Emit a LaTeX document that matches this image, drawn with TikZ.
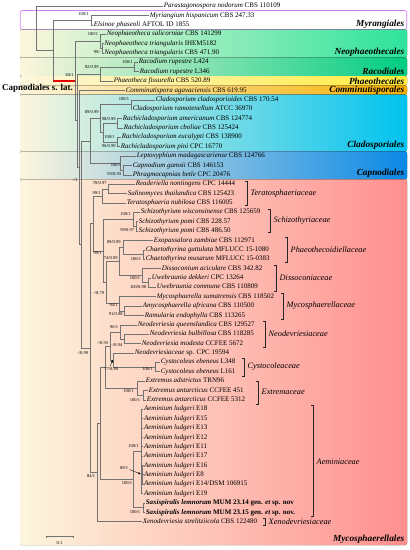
\documentclass[tikz,border=0pt]{standalone}
\usepackage{fontspec}
\setmainfont{Liberation Serif}
\usetikzlibrary{arrows.meta}
\definecolor{bgcream}{HTML}{FDF6DD}
\definecolor{myrline}{HTML}{D27CF5}
\definecolor{neoR}{HTML}{2DE39C}
\definecolor{neoM}{HTML}{CDF4D8}
\definecolor{racR}{HTML}{00CD82}
\definecolor{racM}{HTML}{A8EDC4}
\definecolor{phaR}{HTML}{FFEC3D}
\definecolor{phaM}{HTML}{FDF6A8}
\definecolor{comR}{HTML}{F5B000}
\definecolor{comM}{HTML}{FBDF9C}
\definecolor{claR}{HTML}{00C3EF}
\definecolor{claM}{HTML}{CBEDFA}
\definecolor{capR}{HTML}{0A88E6}
\definecolor{capM}{HTML}{BFDFF7}
\definecolor{mycR}{HTML}{FF8F8F}
\definecolor{mycM}{HTML}{FDD0A2}
\newcommand{\txn}[2]{\textit{#1} #2}
\begin{document}
\begin{tikzpicture}[x=1pt, y=-1pt,
  branch/.style={draw=black!55, line width=0.45pt},
  capstem/.style={draw=red!90!black, line width=1.4pt},
  taxon/.style={anchor=west, inner sep=0.6pt, font=\fontsize{7}{8}\selectfont, text height=4.8pt, text depth=1.4pt},
  supp/.style={anchor=east, inner sep=0.2pt, font=\fontsize{4.5}{5}\selectfont},
  famlabel/.style={anchor=west, inner sep=0.5pt, font=\fontsize{8.3}{9}\selectfont\itshape},
  ordlabel/.style={anchor=east, inner sep=0.5pt, font=\fontsize{9.3}{10}\selectfont\bfseries\itshape},
  bracket/.style={draw=black!85, line width=0.7pt},
  band/.style={rounded corners=2pt},
  pointer/.style={-{Triangle[length=2.4pt,width=2.2pt]}, line width=0.35pt}]
\useasboundingbox (0,0) rectangle (410,550);

% coloured bands
\fill[band, bgcream] (20,29.5) rectangle (407,545);
\draw[band, draw=myrline, fill=white, line width=0.6pt] (20.3,10.5) rectangle (406.7,29.5);
\fill[band, left color=bgcream, middle color=neoM, right color=neoR] (20,29.5) rectangle (407,57.4);
\fill[band, left color=bgcream, middle color=racM, right color=racR] (20,57.4) rectangle (407,76);
\fill[band, left color=bgcream, middle color=phaM, right color=phaR] (20,76) rectangle (407,85.4);
\fill[band, left color=bgcream, middle color=comM, right color=comR] (20,85.4) rectangle (407,94.7);
\fill[band, left color=bgcream, middle color=claM, right color=claR] (20,94.7) rectangle (407,151.4);
\fill[band, left color=bgcream, middle color=capM, right color=capR] (20,151.4) rectangle (407,179.4);
\fill[band, left color=bgcream, middle color=mycM, right color=mycR] (20,179.4) rectangle (407,545);

% orders
\node[ordlabel] (omyr) at (405,24.5) {Myrangiales};
\node[ordlabel] (oneo) at (405,52) {Neophaeothecales};
\node[ordlabel] (orac) at (405,71.5) {Racodiales};
\node[ordlabel] (opha) at (405,81) {Phaeothecales};
\node[ordlabel] (ocom) at (405,90.2) {Comminutisporales};
\node[ordlabel] (ocla) at (405,145.5) {Cladosporiales};
\node[ordlabel] (ocap) at (405,173.5) {Capnodiales};
\node[ordlabel] (omyc) at (405,539.5) {Mycosphaerellales};
\node[anchor=east, inner sep=0.5pt, font=\fontsize{9}{10}\selectfont\bfseries] (capsl) at (73.5,88) {Capnodiales s. lat.};

% taxa
\node[taxon] (t0) at (163,6) {\txn{Parastagonospora nodorum}{CBS 110109}};
\node[taxon] (t1) at (149,15.38) {\txn{Myriangium hispanicum}{CBS 247.33}};
\node[taxon] (t2) at (93,24.75) {\txn{Elsinoe phaseoli}{AFTOL ID 1855}};
\node[taxon] (t3) at (106,34.13) {\txn{Neophaeotheca salicorniae}{CBS 141299}};
\node[taxon] (t4) at (103.5,43.5) {\txn{Neophaeotheca triangularis}{IHEM5182}};
\node[taxon] (t5) at (103.5,52.88) {\txn{Neophaeotheca triangularis}{CBS 471.90}};
\node[taxon] (t6) at (138,62.26) {\txn{Racodium rupestre}{L424}};
\node[taxon] (t7) at (139,71.63) {\txn{Racodium rupestre}{L346}};
\node[taxon] (t8) at (113,81.01) {\txn{Phaeotheca fissurella}{CBS 520.89}};
\node[taxon] (t9) at (125,90.38) {\txn{Comminutispora agavaciensis}{CBS 619.95}};
\node[taxon] (t10) at (155,99.76) {\txn{Cladosporium cladosporioides}{CBS 170.54}};
\node[taxon] (t11) at (132,109.14) {\txn{Cladosporium ramotenellum}{ATCC 36970}};
\node[taxon] (t12) at (122,118.51) {\txn{Rachicladosporium americanum}{CBS 124774}};
\node[taxon] (t13) at (123,127.89) {\txn{Rachicladosporium cboliae}{CBS 125424}};
\node[taxon] (t14) at (121,137.26) {\txn{Rachicladosporium eucalypti}{CBS 138900}};
\node[taxon] (t15) at (120,146.64) {\txn{Rachicladosporium pini}{CPC 16770}};
\node[taxon] (t16) at (136,156.02) {\txn{Leptoxyphium madagascariense}{CBS 124766}};
\node[taxon] (t17) at (132,165.39) {\txn{Capnodium gamsii}{CBS 146153}};
\node[taxon] (t18) at (132,174.77) {\txn{Phragmocapnias betle}{CPC 20476}};
\node[taxon] (t19) at (135,184.14) {\txn{Readeriella nontingens}{CPC 14444}};
\node[taxon] (t20) at (127,193.52) {\txn{Salinomyces thailandica}{CBS 125423}};
\node[taxon] (t21) at (126,202.90) {\txn{Teratosphaeria nubilosa}{CBS 116005}};
\node[taxon] (t22) at (140,212.27) {\txn{Schizothyrium wisconsinense}{CBS 125659}};
\node[taxon] (t23) at (138,221.65) {\txn{Schizothyrium pomi}{CBS 228.57}};
\node[taxon] (t24) at (138,231.02) {\txn{Schizothyrium pomi}{CBS 486.50}};
\node[taxon] (t25) at (153,240.40) {\txn{Exopassalora zambiae}{CBS 112971}};
\node[taxon] (t26) at (145,249.78) {\txn{Chaetothyrina guttulata}{MFLUCC 15-1080}};
\node[taxon] (t27) at (145,259.15) {\txn{Chaetothyrina musarum}{MFLUCC 15-0383}};
\node[taxon] (t28) at (161,268.53) {\txn{Dissoconium aciculare}{CBS 342.82}};
\node[taxon] (t29) at (151,277.90) {\txn{Uwebraunia dekkeri}{CPC 13264}};
\node[taxon] (t30) at (156,287.28) {\txn{Uwebraunia commune}{CBS 110809}};
\node[taxon] (t31) at (156,296.66) {\txn{Mycosphaerella sumatrensis}{CBS 118502}};
\node[taxon] (t32) at (142,306.03) {\txn{Amycosphaerella africana}{CBS 110500}};
\node[taxon] (t33) at (144,315.41) {\txn{Ramularia endophylla}{CBS 113265}};
\node[taxon] (t34) at (137,324.78) {\txn{Neodevriesia queenslandica}{CBS 129527}};
\node[taxon] (t35) at (149,334.16) {\txn{Neodevriesia bulbillosa}{CBS 118285}};
\node[taxon] (t36) at (141,343.54) {\txn{Neodevriesia modesta}{CCFEE 5672}};
\node[taxon] (t37) at (134,352.91) {\txn{Neodevriesiaceae}{sp. CPC 19594}};
\node[taxon] (t38) at (160,362.29) {\txn{Cystocoleus ebeneus}{L348}};
\node[taxon] (t39) at (160,371.66) {\txn{Cystocoleus ebeneus}{L161}};
\node[taxon] (t40) at (145,381.04) {\txn{Extremus adstrictus}{TRN96}};
\node[taxon] (t41) at (148,390.42) {\txn{Extremus antarcticus}{CCFEE 451}};
\node[taxon] (t42) at (146,399.79) {\txn{Extremus antarcticus}{CCFEE 5312}};
\node[taxon] (t43) at (143.3,409.17) {\txn{Aeminium ludgeri}{E18}};
\node[taxon] (t44) at (143.3,418.54) {\txn{Aeminium ludgeri}{E15}};
\node[taxon] (t45) at (143.3,427.92) {\txn{Aeminium ludgeri}{E13}};
\node[taxon] (t46) at (143.3,437.30) {\txn{Aeminium ludgeri}{E12}};
\node[taxon] (t47) at (143.3,446.67) {\txn{Aeminium ludgeri}{E11}};
\node[taxon] (t48) at (143.3,456.05) {\txn{Aeminium ludgeri}{E17}};
\node[taxon] (t49) at (143.3,465.42) {\txn{Aeminium ludgeri}{E16}};
\node[taxon] (t50) at (143.3,474.80) {\txn{Aeminium ludgeri}{E8}};
\node[taxon] (t51) at (143.3,484.18) {\txn{Aeminium ludgeri}{E14/DSM 106915}};
\node[taxon] (t52) at (143.3,493.55) {\txn{Aeminium ludgeri}{E19}};
\node[taxon, font=\fontsize{7}{8}\selectfont\bfseries] (t53) at (145,502.93) {\txn{Saxispiralis lemnorum}{MUM 23.14 gen. \textit{et} sp. nov}};
\node[taxon, font=\fontsize{7}{8}\selectfont\bfseries] (t54) at (145,512.30) {\txn{Saxispiralis lemnorum}{MUM 23.15 gen. \textit{et} sp. nov.}};
\node[taxon] (t55) at (142,521.68) {\txn{Xenodevriesia strelitziicola}{CBS 122480}};

% inner nodes
\coordinate (R0) at (36,28.25);
\coordinate (A) at (53,50.5);
\coordinate (Myr) at (91,20.07);
\coordinate (C) at (75,80.92);
\coordinate (Neo) at (100,41.16);
\coordinate (Nt) at (102,48.19);
\coordinate (C2) at (77,120.68);
\coordinate (RP) at (100,73.98);
\coordinate (Rac) at (134,66.95);
\coordinate (C3) at (79,167.38);
\coordinate (C4) at (81,244.37);
\coordinate (Cc) at (90,140.79);
\coordinate (Cla) at (100,118.52);
\coordinate (Cl) at (131,104.45);
\coordinate (Ra) at (103,132.58);
\coordinate (Ra1) at (117,123.2);
\coordinate (Ra2) at (117,141.95);
\coordinate (Cp) at (120,163.05);
\coordinate (Cp2) at (123,170.08);
\coordinate (Q) at (90,347.94);
\coordinate (MA) at (93,223.41);
\coordinate (T) at (102,195.87);
\coordinate (T1) at (108,188.83);
\coordinate (G1) at (103,250.95);
\coordinate (S) at (133,219.3);
\coordinate (S2) at (136,226.34);
\coordinate (G2) at (106,282.6);
\coordinate (G3) at (119,261.5);
\coordinate (P) at (123,247.43);
\coordinate (Ch) at (143,254.47);
\coordinate (D) at (142,275.56);
\coordinate (U) at (148,282.59);
\coordinate (Mc) at (119,303.69);
\coordinate (Am) at (124,310.72);
\coordinate (M2) at (97,472.46);
\coordinate (M3) at (100,423.24);
\coordinate (M4) at (105,366.99);
\coordinate (X) at (110,345.89);
\coordinate (N1) at (120,331.82);
\coordinate (N2) at (124,338.85);
\coordinate (Y) at (113,359.95);
\coordinate (Cy) at (155,366.98);
\coordinate (E1) at (137,388.08);
\coordinate (E2) at (143,395.11);
\coordinate (AeC) at (133,479.49);
\coordinate (Ae1) at (141.5,451.36);
\coordinate (AeS) at (142.5,474.8);
\coordinate (Sax) at (143,507.62);

% branches
\draw[branch] (R0) |- (t0.west) (R0) |- (A);
\draw[branch] (A) |- (Myr) (A) -- (A |- C);
\draw[capstem] (A |- C) -- (C);
\draw[branch] (Myr) |- (t1.west) (Myr) |- (t2.west);
\draw[branch] (C) |- (Neo) (C) |- (C2);
\draw[branch] (Neo) |- (t3.west) (Neo) |- (Nt);
\draw[branch] (Nt) |- (t4.west) (Nt) |- (t5.west);
\draw[branch] (C2) |- (RP) (C2) |- (C3);
\draw[branch] (RP) |- (Rac) (RP) |- (t8.west);
\draw[branch] (Rac) |- (t6.west) (Rac) |- (t7.west);
\draw[branch] (C3) |- (t9.west) (C3) |- (C4);
\draw[branch] (C4) |- (Cc) (C4) |- (Q);
\draw[branch] (Cc) |- (Cla) (Cc) |- (Cp);
\draw[branch] (Cla) |- (Cl) (Cla) |- (Ra);
\draw[branch] (Cl) |- (t10.west) (Cl) |- (t11.west);
\draw[branch] (Ra) |- (Ra1) (Ra) |- (Ra2);
\draw[branch] (Ra1) |- (t12.west) (Ra1) |- (t13.west);
\draw[branch] (Ra2) |- (t14.west) (Ra2) |- (t15.west);
\draw[branch] (Cp) |- (t16.west) (Cp) |- (Cp2);
\draw[branch] (Cp2) |- (t17.west) (Cp2) |- (t18.west);
\draw[branch] (Q) |- (MA) (Q) |- (M2);
\draw[branch] (MA) |- (T) (MA) |- (G1);
\draw[branch] (T) |- (T1) (T) |- (t21.west);
\draw[branch] (T1) |- (t19.west) (T1) |- (t20.west);
\draw[branch] (G1) |- (S) (G1) |- (G2);
\draw[branch] (S) |- (t22.west) (S) |- (S2);
\draw[branch] (S2) |- (t23.west) (S2) |- (t24.west);
\draw[branch] (G2) |- (G3) (G2) |- (Mc);
\draw[branch] (G3) |- (P) (G3) |- (D);
\draw[branch] (P) |- (t25.west) (P) |- (Ch);
\draw[branch] (Ch) |- (t26.west) (Ch) |- (t27.west);
\draw[branch] (D) |- (t28.west) (D) |- (U);
\draw[branch] (U) |- (t29.west) (U) |- (t30.west);
\draw[branch] (Mc) |- (t31.west) (Mc) |- (Am);
\draw[branch] (Am) |- (t32.west) (Am) |- (t33.west);
\draw[branch] (M2) |- (M3) (M2) |- (t55.west);
\draw[branch] (M3) |- (M4) (M3) |- (AeC);
\draw[branch] (M4) |- (X) (M4) |- (E1);
\draw[branch] (X) |- (N1) (X) |- (Y);
\draw[branch] (N1) |- (t34.west) (N1) |- (N2);
\draw[branch] (N2) |- (t35.west) (N2) |- (t36.west);
\draw[branch] (Y) |- (t37.west) (Y) |- (Cy);
\draw[branch] (Cy) |- (t38.west) (Cy) |- (t39.west);
\draw[branch] (E1) |- (t40.west) (E1) |- (E2);
\draw[branch] (E2) |- (t41.west) (E2) |- (t42.west);
\draw[branch] (AeC) |- (Ae1) (AeC) |- (Sax);
\draw[branch] (Ae1) |- (t43.west) (Ae1) |- (t44.west) (Ae1) |- (t45.west)
  (Ae1) |- (t46.west) (Ae1) |- (t47.west) (Ae1) |- (t48.west)
  (Ae1) |- (AeS) (Ae1) |- (t52.west);
\draw[branch, line width=0.8pt] (AeS) |- (t49.west) (AeS) |- (t50.west) (AeS) |- (t51.west);
\draw[branch] (Sax) |- (t53.west) (Sax) |- (t54.west);

% support values
\node[supp] (s1) at (89,14) {100/1};
\node[supp] (s2) at (98.5,34) {100/1};
\node[supp] (s3) at (101.5,52.5) {99/-};
\node[supp] (s4) at (133,62) {100/1};
\node[supp] (s5) at (99,67.5) {82/0.99};
\node[supp] (s6) at (74,75.5) {84/1};
\node[supp] (s7) at (129.5,99.5) {100/1};
\node[supp] (s8) at (99,112.5) {89/0.99};
\node[supp] (s9) at (116,119) {98/0.99};
\node[supp] (s10) at (115,137) {100/1};
\node[supp] (s11) at (116,146.5) {96/0.99};
\node[supp] (s12) at (121.5,165) {100/1};
\node[supp] (s13) at (121.5,174.5) {93/0.93};
\node[supp] (s14) at (78,180) {-/1};
\node[supp] (s15) at (107,183.5) {78/0.97};
\node[supp] (s16) at (101,193) {99/1};
\node[supp] (s17) at (131,214) {100/1};
\node[supp] (s18) at (134.5,230.5) {99/0.97};
\node[supp] (s19) at (121,242.5) {89/0.99};
\node[supp] (s20) at (102,253.5) {99/1};
\node[supp] (s21) at (118,258) {74/0.99};
\node[supp] (s22) at (141.5,259.5) {100/1};
\node[supp] (s23) at (140.5,278) {100/1};
\node[supp] (s24) at (146.5,287.5) {100/0.98};
\node[supp] (s25) at (104.5,293) {-/0.79};
\node[supp] (s26) at (118,305) {94/1};
\node[supp] (s27) at (123,314) {91/0.98};
\node[supp] (s28) at (118.5,327) {96/1};
\node[supp] (s29) at (108.5,343) {-/0.93};
\node[supp] (s30) at (122.5,345.5) {-/0.94};
\node[supp] (s31) at (88.5,353) {-/0.99};
\node[supp] (s32) at (118.5,369.5) {77/0.89};
\node[supp] (s33) at (153,369.5) {100/1};
\node[supp] (s34) at (134,391) {100/1};
\node[supp] (s35) at (140.5,400.5) {100/1};
\node[supp] (s36) at (139,446) {100/1};
\node[supp] (s37) at (128.5,468) {89/1};
\node[supp] (s38) at (95.5,476) {84/1};
\node[supp] (s39) at (132.5,483.5) {100/1};
\node[supp] (s40) at (140.5,512) {100/1};
\coordinate (p32) at (110,366.3);
\coordinate (p37) at (129.5,469.5);
\draw[pointer] (p32) -- (Y);
\draw[pointer, shorten >=2pt] (p37) -- (AeS);

% families
\node[famlabel] (fter) at (250,193.5) {Teratosphaeriaceae};
\node[famlabel] (fsch) at (273,221) {Schizothyriaceae};
\node[famlabel] (fpha) at (290,249.5) {Phaeothecoidiellaceae};
\node[famlabel] (fdis) at (279,278) {Dissoconiaceae};
\node[famlabel] (fmyc) at (286,306) {Mycosphaerellaceae};
\node[famlabel] (fneo) at (268,334) {Neodevriesiaceae};
\node[famlabel] (fcys) at (247,367) {Cystocoleaceae};
\node[famlabel] (fext) at (261,391.5) {Extremaceae};
\node[famlabel] (faem) at (316,461.5) {Aeminiaceae};
\node[famlabel] (fxen) at (268,521.7) {Xenodevriesiaceae};
\draw[bracket] (245,181.5) -- (247,181.5) -- (247,205) -- (245,205);
\draw[bracket] (268,209.5) -- (270,209.5) -- (270,232.5) -- (268,232.5);
\draw[bracket] (285,237) -- (287,237) -- (287,262.5) -- (285,262.5);
\draw[bracket] (274,265.5) -- (276,265.5) -- (276,291) -- (274,291);
\draw[bracket] (281,293.5) -- (283,293.5) -- (283,319) -- (281,319);
\draw[bracket] (263,321) -- (265,321) -- (265,347.5) -- (263,347.5);
\draw[bracket] (242,358.5) -- (244,358.5) -- (244,376) -- (242,376);
\draw[bracket] (256,381.5) -- (258,381.5) -- (258,404.5) -- (256,404.5);
\draw[bracket] (311,405.5) -- (313,405.5) -- (313,516.5) -- (311,516.5);
\draw[bracket] (263,518) -- (265,518) -- (265,525.5) -- (263,525.5);

% scale
\coordinate (sb1) at (46,536);
\coordinate (sb2) at (73,536);
\draw[branch, line width=0.5pt] ([yshift=-1.5pt]sb1) -- (sb1) -- (sb2) -- ([yshift=-1.5pt]sb2);
\node[font=\fontsize{4.6}{5}\selectfont, inner sep=0.3pt] (sbl) at (59.5,543) {0.1};
\end{tikzpicture}
\end{document}
